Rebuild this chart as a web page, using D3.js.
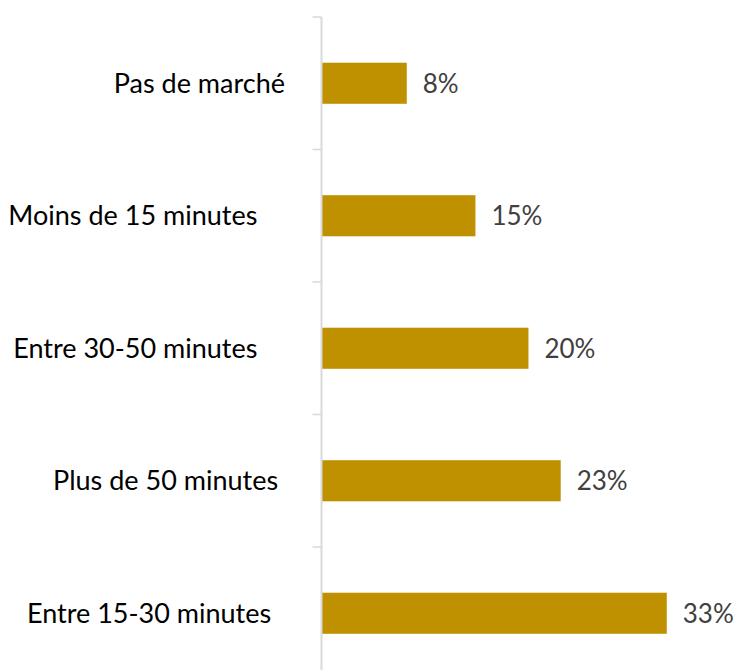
<!DOCTYPE html>
<html>
<head>
<meta charset="utf-8">
<script src="https://cdn.jsdelivr.net/npm/d3@7"></script>
<style>
  html, body { margin: 0; padding: 0; background: #fff; }
  svg { display: block; }
  text { white-space: pre; }
</style>
</head>
<body>
<svg id="chart" width="735" height="670"></svg>
<script>
// Data (top to bottom). Trailing spaces are part of the original category labels.
const categories = [
  "Pas de marché",
  "Moins de 15 minutes    ",
  "Entre 30-50 minutes    ",
  "Plus de 50 minutes ",
  "Entre 15-30 minutes  "
];
const values = [8.2, 14.8, 19.9, 23.0, 33.2];

const W = 735, H = 670;
const svg = d3.select("#chart");
const axisX = 321.5;
const x = d3.scaleLinear().domain([0, 35]).range([axisX, axisX + 364]);
const y = d3.scaleBand().domain(categories).range([17, 679.5]).paddingInner(0.69).paddingOuter(0.345);

const fontFamily = "Lato, 'Open Sans', sans-serif";
const fontSize = 27;

// Bars
svg.append("g").selectAll("rect").data(categories).join("rect")
  .attr("x", x(0))
  .attr("y", d => y(d))
  .attr("width", (d, i) => x(values[i]) - x(0))
  .attr("height", y.bandwidth())
  .attr("fill", "#BF9000");

// Axis line + ticks at band boundaries
const step = y.step();
const boundaries = categories.map(c => y(c) + y.bandwidth() / 2 - step / 2);
boundaries.push(y(categories[categories.length - 1]) + y.bandwidth() / 2 + step / 2);
const ax = svg.append("g");
ax.append("line")
  .attr("x1", axisX).attr("x2", axisX)
  .attr("y1", boundaries[0]).attr("y2", boundaries[boundaries.length - 1])
  .attr("stroke", "#D9D9D9").attr("stroke-width", 2);
ax.selectAll("line.tick").data(boundaries).join("line")
  .attr("class", "tick")
  .attr("x1", axisX - 9).attr("x2", axisX)
  .attr("y1", d => d).attr("y2", d => d)
  .attr("stroke", "#D9D9D9").attr("stroke-width", 1.5);

// Category labels
svg.append("g").selectAll("text").data(categories).join("text")
  .attr("x", 285)
  .attr("y", d => y(d) + y.bandwidth() / 2)
  .attr("dy", "0.36em")
  .attr("text-anchor", "end")
  .attr("font-family", fontFamily)
  .attr("font-size", fontSize)
  .attr("fill", "#000")
  .text(d => d);

// Value labels
svg.append("g").selectAll("text").data(categories).join("text")
  .attr("x", (d, i) => x(values[i]) + 16)
  .attr("y", d => y(d) + y.bandwidth() / 2)
  .attr("dy", "0.36em")
  .attr("font-family", fontFamily)
  .attr("font-size", 26)
  .attr("fill", "#404040")
  .text((d, i) => Math.round(values[i]) + "%");
</script>
</body>
</html>
